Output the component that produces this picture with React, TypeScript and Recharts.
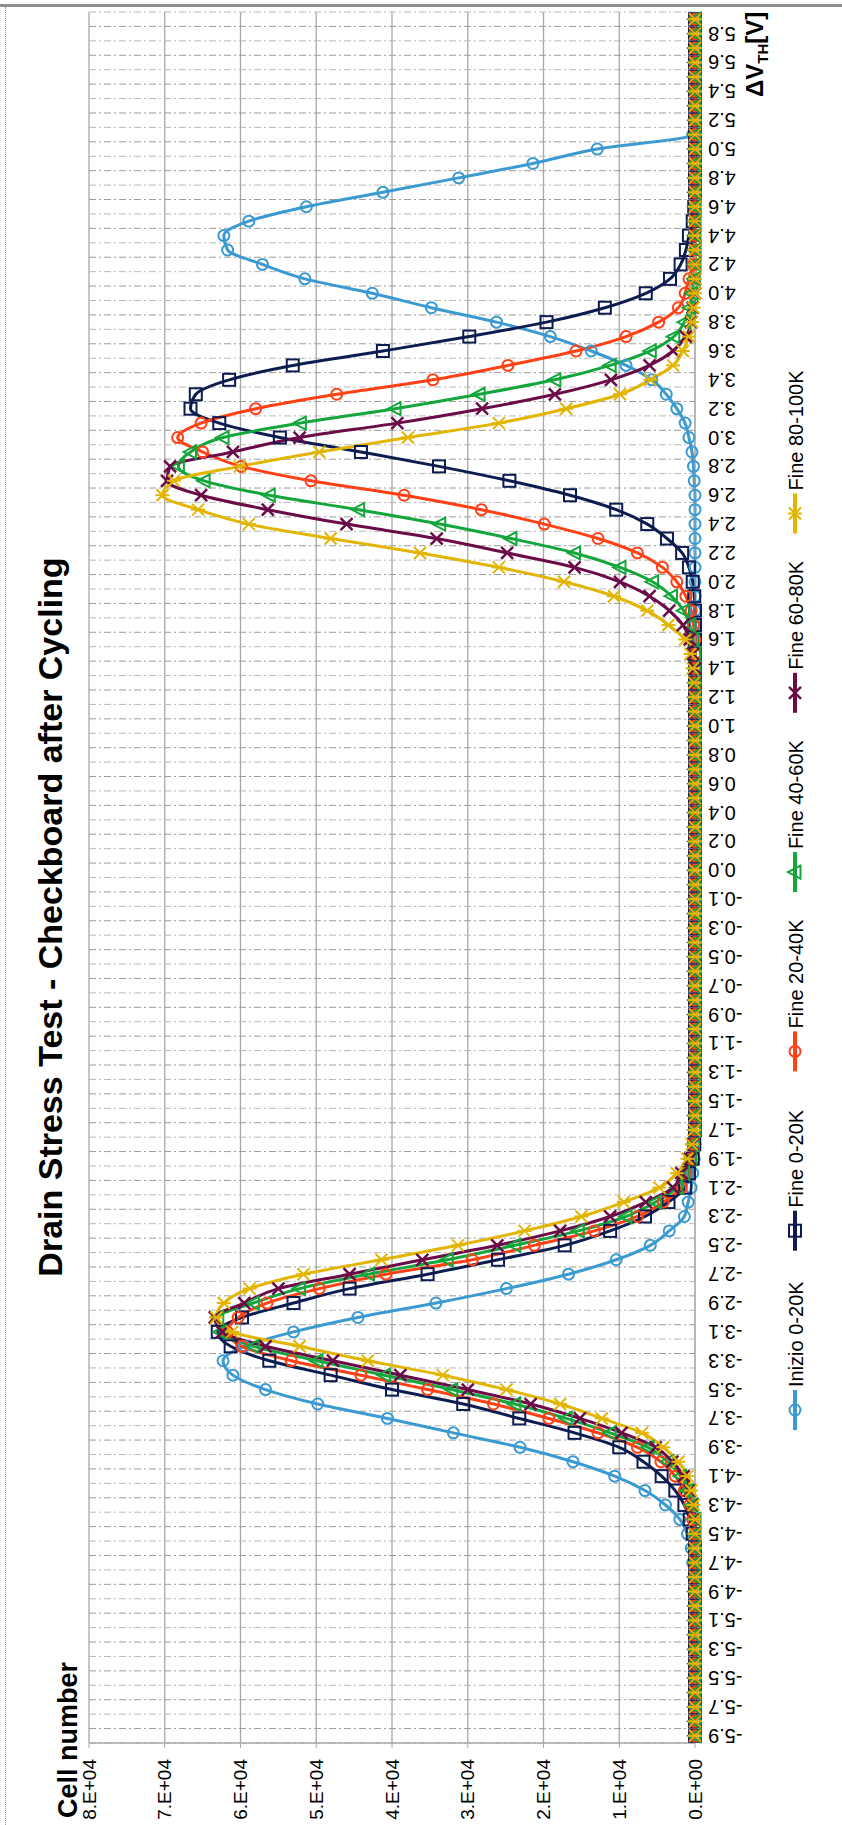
import React from "react";
import { CartesianGrid, Line, LineChart, XAxis, YAxis } from "recharts";

// ΔVth categories (note the doubled zero, as in the source sheet)
const CATEGORIES = [
  "-5.9", "-5.8", "-5.7", "-5.6", "-5.5", "-5.4", "-5.3", "-5.2", "-5.1", "-5.0",
  "-4.9", "-4.8", "-4.7", "-4.6", "-4.5", "-4.4", "-4.3", "-4.2", "-4.1", "-4.0",
  "-3.9", "-3.8", "-3.7", "-3.6", "-3.5", "-3.4", "-3.3", "-3.2", "-3.1", "-3.0",
  "-2.9", "-2.8", "-2.7", "-2.6", "-2.5", "-2.4", "-2.3", "-2.2", "-2.1", "-2.0",
  "-1.9", "-1.8", "-1.7", "-1.6", "-1.5", "-1.4", "-1.3", "-1.2", "-1.1", "-1.0",
  "-0.9", "-0.8", "-0.7", "-0.6", "-0.5", "-0.4", "-0.3", "-0.2", "-0.1", "-0.0",
  "0.0", "0.1", "0.2", "0.3", "0.4", "0.5", "0.6", "0.7", "0.8", "0.9",
  "1.0", "1.1", "1.2", "1.3", "1.4", "1.5", "1.6", "1.7", "1.8", "1.9",
  "2.0", "2.1", "2.2", "2.3", "2.4", "2.5", "2.6", "2.7", "2.8", "2.9",
  "3.0", "3.1", "3.2", "3.3", "3.4", "3.5", "3.6", "3.7", "3.8", "3.9",
  "4.0", "4.1", "4.2", "4.3", "4.4", "4.5", "4.6", "4.7", "4.8", "4.9",
  "5.0", "5.1", "5.2", "5.3", "5.4", "5.5", "5.6", "5.7", "5.8", "5.9",
];

const INIZIO_0_20K = [
  0, 0, 0, 0, 0, 0, 0, 0, 0, 0,
  0, 100, 300, 500, 1000, 2000, 3900, 6600, 10600, 16100,
  23100, 31900, 40600, 49800, 56700, 61000, 62300, 59500, 53000, 44500,
  34200, 24900, 16700, 10400, 5900, 3400, 1400, 900, 500, 300,
  100, 0, 0, 0, 0, 0, 0, 0, 0, 0,
  0, 0, 0, 0, 0, 0, 0, 0, 0, 0,
  0, 0, 0, 0, 0, 0, 0, 0, 0, 0,
  0, 0, 0, 0, 0, 0, 0, 0, 0, 0,
  0, 0, 0, 0, 0, 0, 0, 100, 200, 400,
  800, 1300, 2400, 3800, 5700, 9100, 13700, 19100, 26200, 34800,
  42600, 51500, 57100, 61700, 62200, 58900, 51300, 41200, 31200, 21400,
  12900, 300, 0, 0, 0, 0, 0, 0, 0, 0,
];

const FINE_0_20K = [
  0, 0, 0, 0, 0, 0, 0, 0, 0, 0,
  0, 0, 0, 0, 300, 700, 1400, 2600, 4400, 6800,
  10000, 15900, 23200, 30600, 40000, 48100, 56200, 61300, 63000, 59800,
  53000, 45600, 35300, 26000, 17200, 11200, 6600, 3500, 1300, 800,
  300, 100, 0, 0, 0, 0, 0, 0, 0, 0,
  0, 0, 0, 0, 0, 0, 0, 0, 0, 0,
  0, 0, 0, 0, 0, 0, 0, 0, 0, 0,
  0, 0, 0, 0, 0, 0, 0, 0, 0, 100,
  300, 800, 1700, 3700, 6300, 10400, 16500, 24500, 33800, 44100,
  54800, 62800, 66600, 65900, 61500, 53100, 41200, 29800, 19600, 11900,
  6500, 3300, 1900, 1200, 800, 300, 100, 0, 0, 0,
  0, 0, 0, 0, 0, 0, 0, 0, 0, 0,
];

const FINE_20_40K = [
  0, 0, 0, 0, 0, 0, 0, 0, 0, 0,
  0, 0, 0, 0, 0, 300, 700, 1400, 2600, 4500,
  7600, 12800, 19300, 26600, 35300, 44100, 53300, 59800, 61700, 60300,
  56500, 49600, 40800, 29400, 21200, 13300, 7600, 4200, 1800, 1200,
  500, 200, 0, 0, 0, 0, 0, 0, 0, 0,
  0, 0, 0, 0, 0, 0, 0, 0, 0, 0,
  0, 0, 0, 0, 0, 0, 0, 0, 0, 0,
  0, 0, 0, 0, 0, 0, 0, 200, 500, 1200,
  2400, 4300, 7600, 12800, 19900, 28200, 38400, 50700, 59900, 65000,
  68300, 65200, 58000, 47300, 34600, 24700, 15700, 9100, 4800, 2200,
  1300, 800, 200, 0, 0, 0, 0, 0, 0, 0,
  0, 0, 0, 0, 0, 0, 0, 0, 0, 0,
];

const FINE_40_60K = [
  0, 0, 0, 0, 0, 0, 0, 0, 0, 0,
  0, 0, 0, 0, 0, 0, 400, 1000, 1900, 3600,
  6200, 11200, 17000, 23800, 32100, 41000, 49900, 58300, 62700, 63000,
  58300, 52200, 43100, 32700, 23800, 15400, 9100, 5200, 2400, 1500,
  600, 200, 0, 0, 0, 0, 0, 0, 0, 0,
  0, 0, 0, 0, 0, 0, 0, 0, 0, 0,
  0, 0, 0, 0, 0, 0, 0, 0, 0, 0,
  0, 0, 0, 0, 0, 0, 300, 700, 1500, 3100,
  5600, 9900, 15900, 24300, 33700, 44400, 56200, 64800, 68200, 66600,
  62300, 52100, 39600, 28500, 18500, 11200, 5900, 2800, 1400, 700,
  400, 100, 0, 0, 0, 0, 0, 0, 0, 0,
  0, 0, 0, 0, 0, 0, 0, 0, 0, 0,
];

const FINE_60_80K = [
  0, 0, 0, 0, 0, 0, 0, 0, 0, 0,
  0, 0, 0, 0, 0, 100, 300, 700, 1500, 3000,
  5200, 9700, 15200, 21700, 30000, 38900, 47800, 56700, 62400, 63400,
  59500, 55000, 45600, 36000, 26100, 17800, 11200, 6500, 2900, 1800,
  700, 300, 100, 0, 0, 0, 0, 0, 0, 0,
  0, 0, 0, 0, 0, 0, 0, 0, 0, 0,
  0, 0, 0, 0, 0, 0, 0, 0, 0, 0,
  0, 0, 0, 0, 0, 300, 700, 1600, 3400, 6000,
  9900, 15900, 24800, 34100, 46000, 56400, 65200, 69700, 69300, 61000,
  52200, 39300, 28100, 18500, 11100, 6000, 2900, 1200, 500, 300,
  0, 0, 0, 0, 0, 0, 0, 0, 0, 0,
  0, 0, 0, 0, 0, 0, 0, 0, 0, 0,
];

const FINE_80_100K = [
  0, 0, 0, 0, 0, 0, 0, 0, 0, 0,
  0, 0, 0, 0, 0, 0, 200, 500, 1000, 2200,
  4200, 7000, 12300, 17800, 24900, 33300, 43200, 52200, 61100, 63200,
  62200, 58800, 51700, 41400, 31300, 22500, 15000, 9400, 4700, 2400,
  1000, 400, 100, 0, 0, 0, 0, 0, 0, 0,
  0, 0, 0, 0, 0, 0, 0, 0, 0, 0,
  0, 0, 0, 0, 0, 0, 0, 0, 0, 0,
  0, 0, 0, 100, 300, 600, 1300, 3500, 6300, 10700,
  17300, 25900, 36300, 48100, 58900, 65600, 70300, 68800, 60100, 49600,
  37900, 25900, 17000, 9900, 5900, 2900, 1600, 800, 400, 200,
  0, 0, 0, 0, 0, 0, 0, 0, 0, 0,
  0, 0, 0, 0, 0, 0, 0, 0, 0, 0,
];

const Y_TICKS = [0, 10000, 20000, 30000, 40000, 50000, 60000, 70000, 80000];

type Shape = "circle" | "square" | "triangle" | "cross" | "star";

const SERIES: { key: string; name: string; color: string; shape: Shape; values: number[] }[] = [
  { key: "inizio", name: "Inizio 0-20K", color: "#3a9ad1", shape: "circle", values: INIZIO_0_20K },
  { key: "f0", name: "Fine 0-20K", color: "#0d1c50", shape: "square", values: FINE_0_20K },
  { key: "f20", name: "Fine 20-40K", color: "#ff4115", shape: "circle", values: FINE_20_40K },
  { key: "f40", name: "Fine 40-60K", color: "#13a63b", shape: "triangle", values: FINE_40_60K },
  { key: "f60", name: "Fine 60-80K", color: "#6b0b47", shape: "cross", values: FINE_60_80K },
  { key: "f80", name: "Fine 80-100K", color: "#e2b500", shape: "star", values: FINE_80_100K },
];

const rows = CATEGORIES.map((dv, i) => {
  const row: Record<string, string | number> = { dv };
  SERIES.forEach((s) => {
    row[s.key] = s.values[i];
  });
  return row;
});

const FONT = "'Liberation Sans', Arial, Helvetica, sans-serif";
const GRID = "#a8a8a8";

// chart is laid out in its own (landscape) frame, then turned a quarter left
const W = 1825;
const H = 842;
const PLOT_LEFT = 82;
const PLOT_TOP = 89;
const PLOT_RIGHT = 12;
const X_AXIS_H = 147;

function Marker({ shape, color, cx, cy }: { shape: Shape; color: string; cx: number; cy: number }) {
  if (shape === "circle") {
    return <circle cx={cx} cy={cy} r={5.5} fill="none" stroke={color} strokeWidth={2} />;
  }
  if (shape === "square") {
    return <rect x={cx - 6} y={cy - 6} width={12} height={12} fill="none" stroke={color} strokeWidth={2} />;
  }
  if (shape === "triangle") {
    return (
      <polygon
        points={`${cx},${cy - 7} ${cx - 6.5},${cy + 5.5} ${cx + 6.5},${cy + 5.5}`}
        fill="none"
        stroke={color}
        strokeWidth={2}
      />
    );
  }
  if (shape === "cross") {
    return (
      <g stroke={color} strokeWidth={2.5}>
        <line x1={cx - 6} y1={cy - 6} x2={cx + 6} y2={cy + 6} />
        <line x1={cx - 6} y1={cy + 6} x2={cx + 6} y2={cy - 6} />
      </g>
    );
  }
  return (
    <g stroke={color} strokeWidth={2}>
      <line x1={cx - 6} y1={cy - 6} x2={cx + 6} y2={cy + 6} />
      <line x1={cx - 6} y1={cy + 6} x2={cx + 6} y2={cy - 6} />
      <line x1={cx} y1={cy - 7} x2={cx} y2={cy + 7} />
    </g>
  );
}

const makeDot = (shape: Shape, color: string) => (props: any) => {
  const { cx, cy, index } = props;
  if (cx == null || cy == null) return <g key={`${shape}-${index}`} />;
  return (
    <g key={`${color}-${index}`}>
      <Marker shape={shape} color={color} cx={cx} cy={cy} />
    </g>
  );
};

const fmtValue = (v: number) => (v === 0 ? "0.E+00" : `${v / 10000}.E+04`);

function XTick(props: any) {
  const { x, payload } = props;
  const y = 708;
  return (
    <text
      x={x}
      y={y}
      dy="0.35em"
      transform={`rotate(-90, ${x}, ${y})`}
      textAnchor="end"
      fontSize={20}
      fontFamily={FONT}
      fill="#000"
    >
      {payload.value}
    </text>
  );
}

function YTick(props: any) {
  const { y, payload } = props;
  return (
    <text x={66} y={y} dy="0.35em" textAnchor="end" fontSize={19} fontFamily={FONT} fill="#000">
      {fmtValue(payload.value)}
    </text>
  );
}

// category boundaries (Excel draws the category grid between ticks)
const boundaries = (odd: boolean) => ({ offset }: any) => {
  const step = offset.width / CATEGORIES.length;
  const out: number[] = [];
  for (let k = odd ? 1 : 0; k <= CATEGORIES.length; k += 2) out.push(offset.left + k * step);
  return out;
};

export default function App() {
  const legendStart = 415;
  const legendStep = 179.3;

  return (
    <div
      style={{
        position: "absolute",
        left: 0,
        top: 0,
        width: 842,
        height: 1825,
        overflow: "hidden",
        background: "#fff",
        fontFamily: FONT,
      }}
    >
      <div style={{ position: "absolute", left: 0, top: 4, width: 842, height: 3, background: "#8e8e8e" }} />
      <div style={{ position: "absolute", left: 5, top: 7, width: 0, height: 1818, borderLeft: "1px dotted #9a9a9a" }} />

      <div
        style={{
          position: "absolute",
          left: 0,
          top: 0,
          width: W,
          height: H,
          transformOrigin: "0 0",
          transform: `translateY(${W}px) rotate(-90deg)`,
        }}
      >
        <LineChart
          width={W}
          height={H}
          data={rows}
          margin={{ top: PLOT_TOP, right: PLOT_RIGHT, bottom: 0, left: 0 }}
        >
          <CartesianGrid vertical={false} stroke={GRID} strokeWidth={1.3} />
          <CartesianGrid
            horizontal={false}
            stroke="#9c9c9c"
            strokeDasharray="7 3 2 3"
            verticalCoordinatesGenerator={boundaries(true)}
          />
          <CartesianGrid
            horizontal={false}
            stroke="#b8b8b8"
            strokeDasharray="7 3 2 3"
            verticalCoordinatesGenerator={boundaries(false)}
          />
          <XAxis
            dataKey="dv"
            type="category"
            scale="point"
            padding={{ left: 7.21, right: 7.21 }}
            interval={1}
            height={X_AXIS_H}
            tickLine={false}
            axisLine={{ stroke: GRID }}
            tick={XTick}
          />
          <YAxis
            type="number"
            domain={[0, 80000]}
            ticks={Y_TICKS}
            width={PLOT_LEFT}
            tickSize={5}
            tickLine={{ stroke: GRID }}
            axisLine={{ stroke: GRID, strokeWidth: 1.3 }}
            tick={YTick}
          />
          {SERIES.map((s) => (
            <Line
              key={s.key}
              type="monotone"
              dataKey={s.key}
              name={s.name}
              stroke={s.color}
              strokeWidth={3}
              dot={makeDot(s.shape, s.color)}
              activeDot={false}
              isAnimationActive={false}
            />
          ))}
        </LineChart>

        <svg
          width={W}
          height={H}
          style={{ position: "absolute", left: 0, top: 0, pointerEvents: "none" }}
        >
          <text x={908} y={62} textAnchor="middle" fontSize={34} fontWeight="bold" fontFamily={FONT} fill="#000">
            Drain Stress Test - Checkboard after Cycling
          </text>
          <text x={7} y={77} fontSize={27} fontWeight="bold" fontFamily={FONT} fill="#000">
            Cell number
          </text>
          <text x={1728} y={763} fontSize={24} fontWeight="bold" fontFamily={FONT} fill="#000">
            ΔV
            <tspan fontSize={15} dy={5}>
              TH
            </tspan>
            <tspan fontSize={24} dy={-5}>
              [V]
            </tspan>
          </text>

          {SERIES.map((s, k) => {
            const cx = legendStart + k * legendStep;
            return (
              <g key={s.key}>
                <line x1={cx - 20} y1={795} x2={cx + 20} y2={795} stroke={s.color} strokeWidth={4} />
                <Marker shape={s.shape} color={s.color} cx={cx} cy={795} />
                <text x={cx + 23} y={803} fontSize={20} fontFamily={FONT} fill="#000">
                  {s.name}
                </text>
              </g>
            );
          })}
        </svg>
      </div>
    </div>
  );
}
